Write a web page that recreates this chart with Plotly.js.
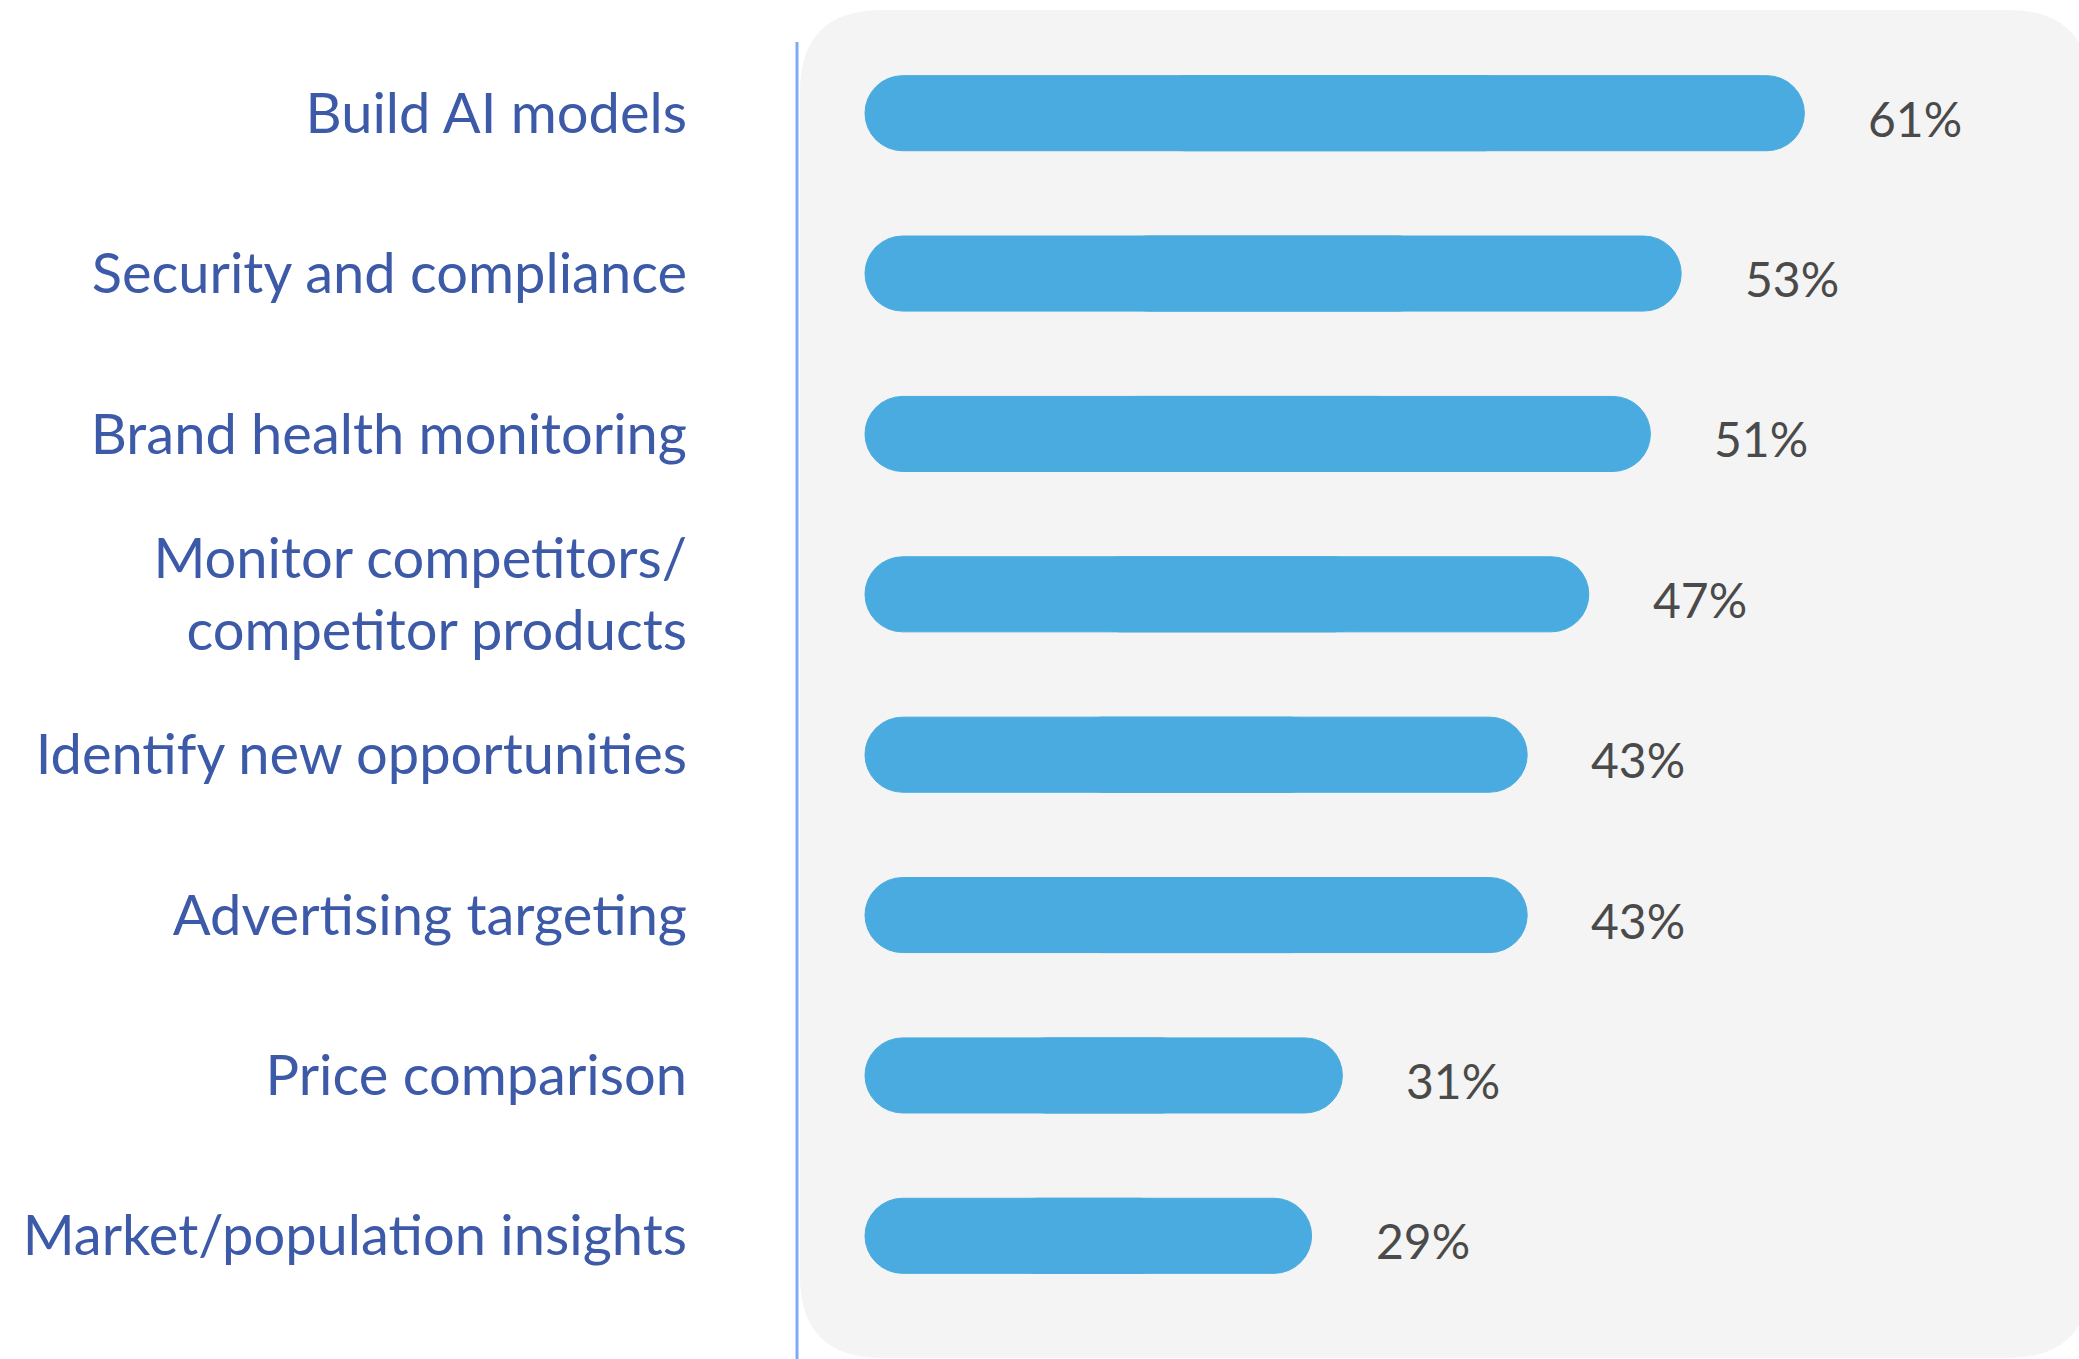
<!DOCTYPE html>
<html>
<head>
<meta charset="utf-8">
<script src="https://cdn.plot.ly/plotly-3.0.1.min.js"></script>
<style>
  html, body { margin: 0; padding: 0; background: #fff; }
  #chart { width: 2079px; height: 1359px; }
</style>
</head>
<body>
<div id="chart"></div>
<script>
// data
var categories = [
  'Build AI models',
  'Security and compliance',
  'Brand health monitoring',
  'Monitor competitors/<br>competitor products',
  'Identify new opportunities',
  'Advertising targeting',
  'Price comparison',
  'Market/population insights'
];
var values = [61, 53, 51, 47, 43, 43, 31, 29];
var valueLabels = ['61%', '53%', '51%', '47%', '43%', '43%', '31%', '29%'];

var W = 2079, H = 1359;
var mL = 800, mR = 0, mT = 33, mB = 43;
var plotW = W - mL - mR, plotH = H - mT - mB;

// pixel -> paper helpers (for the backdrop panel and divider)
function px(X) { return (X - mL) / plotW; }
function py(Y) { return (H - mB - Y) / plotH; }

function roundedPanel(x0, y0, x1, y1, r) {
  return 'M' + px(x0 + r) + ',' + py(y0) +
    ' L' + px(x1 - r) + ',' + py(y0) +
    ' Q' + px(x1) + ',' + py(y0) + ' ' + px(x1) + ',' + py(y0 + r) +
    ' L' + px(x1) + ',' + py(y1 - r) +
    ' Q' + px(x1) + ',' + py(y1) + ' ' + px(x1 - r) + ',' + py(y1) +
    ' L' + px(x0 + r) + ',' + py(y1) +
    ' Q' + px(x0) + ',' + py(y1) + ' ' + px(x0) + ',' + py(y1 - r) +
    ' L' + px(x0) + ',' + py(y0 + r) +
    ' Q' + px(x0) + ',' + py(y0) + ' ' + px(x0 + r) + ',' + py(y0) + ' Z';
}

var barColor = '#49abdf';

// each pill = two overlapping bars, each rounded at its far end
var rightHalf = {
  type: 'bar', orientation: 'h',
  y: categories,
  base: values.map(function (v) { return v * 0.3; }),
  x: values.map(function (v) { return v * 0.7; }),
  marker: { color: barColor, cornerradius: '50%', line: { width: 1, color: barColor } },
  width: 0.468,
  hoverinfo: 'skip'
};
var leftHalf = {
  type: 'bar', orientation: 'h',
  y: categories,
  base: values.map(function (v) { return v * 0.7; }),
  x: values.map(function (v) { return -v * 0.7; }),
  marker: { color: barColor, cornerradius: '50%', line: { width: 1, color: barColor } },
  width: 0.468,
  hoverinfo: 'skip'
};

var scale = 15.4; // px per percent
var x0 = -65 / scale;

var annotations = values.map(function (v, i) {
  return {
    x: v, y: categories[i], xref: 'x', yref: 'y',
    text: valueLabels[i], showarrow: false,
    xanchor: 'left', yanchor: 'middle', xshift: 62, yshift: -5,
    font: { family: 'Lato, sans-serif', size: 48, color: '#4a4a4a' }
  };
});

var layout = {
  width: W, height: H,
  margin: { l: mL, r: mR, t: mT, b: mB },
  paper_bgcolor: '#ffffff',
  plot_bgcolor: 'rgba(0,0,0,0)',
  barmode: 'overlay',
  showlegend: false,
  xaxis: {
    range: [x0, x0 + plotW / scale],
    visible: false, fixedrange: true
  },
  yaxis: {
    type: 'category',
    range: [7.5, -0.5],
    showgrid: false, zeroline: false, showline: false,
    ticks: '',
    ticklabelstandoff: 112,
    tickfont: { family: 'Lato, sans-serif', size: 56, color: '#3d5aa8' },
    fixedrange: true
  },
  shapes: [
    {
      type: 'path', xref: 'paper', yref: 'paper', layer: 'below',
      path: roundedPanel(800, 10, 2090, 1358, 82),
      fillcolor: '#f4f4f4', line: { width: 0 }
    },
    {
      type: 'line', xref: 'paper', yref: 'paper', layer: 'above',
      x0: px(797), x1: px(797), y0: py(42), y1: py(1359),
      line: { color: '#7fa9f7', width: 3 }
    }
  ],
  annotations: annotations
};

Plotly.newPlot('chart', [rightHalf, leftHalf], layout, { displayModeBar: false, staticPlot: true });
</script>
</body>
</html>
